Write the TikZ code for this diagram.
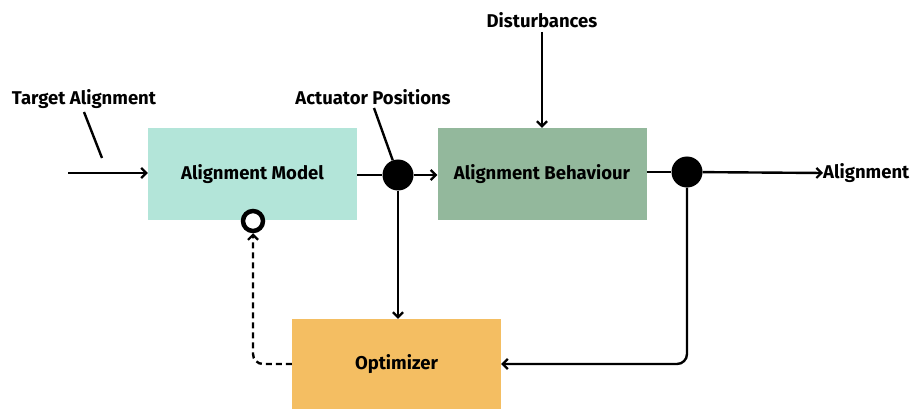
\documentclass[tikz,border=0pt]{standalone}
\usepackage{fontspec}
\setmainfont{Fira Sans}
\usetikzlibrary{arrows.meta}
\definecolor{mintbox}{HTML}{B3E5D9}
\definecolor{sagebox}{HTML}{93B89C}
\definecolor{ambox}{HTML}{F4BE62}
\tikzset{
  blk/.style={draw=none, minimum width=209pt, minimum height=92pt, inner sep=0pt, font=\bfseries\fontsize{18.5}{22}\selectfont},
  lbl/.style={font=\bfseries\fontsize{18.5}{22}\selectfont, inner sep=0pt},
  wire/.style={line width=2.4pt},
  arr/.style={wire, -{Straight Barb[length=5pt,width=10pt,line width=2.2pt]}},
  dot/.style={circle, fill=black, minimum size=31pt, inner sep=0pt},
  ring/.style={circle, draw=black, line width=4.5pt, fill=white, minimum size=20pt, inner sep=0pt},
}
\begin{document}
\begin{tikzpicture}[x=1pt,y=-1pt]
\useasboundingbox (0,0) rectangle (914,409);
% blocks
\node[blk, fill=mintbox] (model) at (252.5,174) {Alignment Model};
\node[blk, fill=sagebox] (plant) at (542,174) {Alignment Behaviour};
\node[blk, fill=ambox, minimum height=90pt] (opt) at (396.5,364) {Optimizer};
% junctions
\node[dot] (j1) at (398,175) {};
\node[dot] (j2) at (687,172) {};
\node[ring] (r) at (253,221) {};
% labels
\node[lbl] (tgt) at (84,99) {Target Alignment};
\node[lbl] (act) at (373,97) {Actuator Positions};
\node[lbl] (dist) at (542,20) {Disturbances};
\node[lbl, anchor=west] (out) at (823,173) {Alignment};
% free ends
\coordinate (in) at (68,173);
\coordinate (t1) at (84,112);
\coordinate (t2) at (102,158);
\coordinate (a1) at (374,108);
% leader lines
\draw[wire] (t1) -- (t2);
\draw[wire] (a1) -- (j1);
% signal path
\draw[arr] (in) -- (model.west |- in);
\draw[wire] (model.east |- j1) -- (j1);
\draw[arr] (j1) -- (plant.west |- j1);
\draw[arr] (dist.south |- 0,32) -- (plant.north);
\draw[wire] (plant.east |- j2) -- (j2);
\draw[arr] (j2) -- (out.west);
\draw[arr] (j1) -- (j1 |- opt.north);
\draw[arr, rounded corners=10pt] (j2) |- (opt.east);
\draw[arr, dashed, dash pattern=on 6pt off 4pt, rounded corners=10pt] (opt.west) -| (r.south);
\end{tikzpicture}
\end{document}
